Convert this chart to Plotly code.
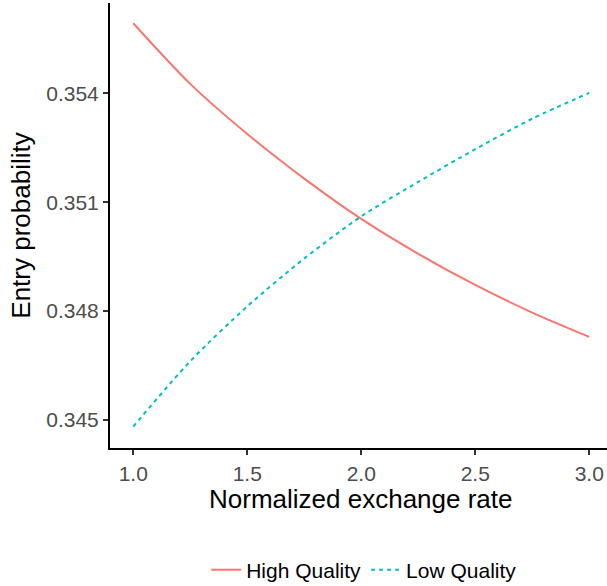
import plotly.graph_objects as go

exchange_rate = [1.0, 1.25, 1.5, 1.75, 2.0, 2.25, 2.5, 2.75, 3.0]
high_quality = [0.35593, 0.35426, 0.35288, 0.35165, 0.35054, 0.34958, 0.34872, 0.34796, 0.34729]
low_quality = [0.34482, 0.34662, 0.34813, 0.34945, 0.35061, 0.35156, 0.35246, 0.35330, 0.35401]
x_ticks = [1.0, 1.5, 2.0, 2.5, 3.0]
x_tick_labels = ["1.0", "1.5", "2.0", "2.5", "3.0"]
y_ticks = [0.345, 0.348, 0.351, 0.354]
y_tick_labels = ["0.345", "0.348", "0.351", "0.354"]

FONT = "Liberation Sans, Arial, Helvetica, sans-serif"

fig = go.Figure()
fig.add_trace(go.Scatter(
    x=exchange_rate, y=high_quality, mode="lines", name="High Quality",
    line=dict(color="#F8766D", width=2, shape="spline", smoothing=0.8),
))
fig.add_trace(go.Scatter(
    x=exchange_rate, y=low_quality, mode="lines", name="Low Quality",
    line=dict(color="#00BFC4", width=2, dash="4px,4px", shape="spline", smoothing=0.8),
))

fig.update_layout(
    width=607, height=586,
    margin=dict(l=110, r=0, t=3, b=138),
    paper_bgcolor="white", plot_bgcolor="white",
    font=dict(family=FONT, color="black"),
    showlegend=True,
    legend=dict(
        orientation="h", xref="container", yref="container",
        x=0.600, xanchor="center", y=0.027, yanchor="middle",
        font=dict(size=21, color="black", family=FONT),
        itemwidth=30, tracegroupgap=0,
    ),
    annotations=[dict(
        text="Normalized exchange rate", xref="paper", yref="paper",
        x=0.506, y=-0.114, xanchor="center", yanchor="middle", showarrow=False,
        font=dict(size=26, color="black", family=FONT),
    )],
)
fig.update_xaxes(
    range=[0.898, 3.078], automargin=False,
    tickvals=x_ticks, ticktext=x_tick_labels,
    showgrid=False, zeroline=False,
    showline=True, linecolor="black", linewidth=2,
    ticks="outside", ticklen=5, tickwidth=1.5, tickcolor="#333333",
    ticklabelstandoff=1,
    tickfont=dict(size=21, color="#4D4D4D", family=FONT),
)
fig.update_yaxes(
    range=[0.344229, 0.356488], automargin=False,
    tickvals=y_ticks, ticktext=y_tick_labels,
    showgrid=False, zeroline=False,
    showline=True, linecolor="black", linewidth=2,
    ticks="outside", ticklen=5, tickwidth=1.5, tickcolor="#333333",
    tickfont=dict(size=21, color="#4D4D4D", family=FONT),
    title=dict(text="Entry probability", font=dict(size=26, color="black", family=FONT), standoff=8),
)

fig.write_html(
    "out.html",
    config={"displayModeBar": False},
    post_script="document.body.style.margin='0';document.body.style.padding='0';",
)
